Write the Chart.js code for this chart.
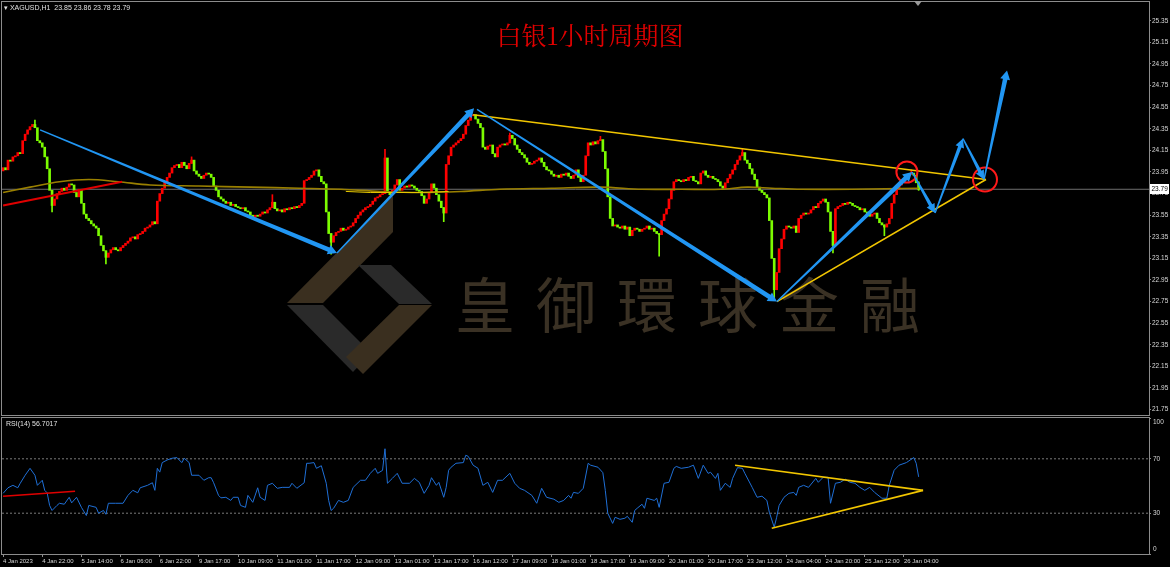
<!DOCTYPE html>
<html><head><meta charset="utf-8">
<script src="https://cdn.jsdelivr.net/npm/chart.js@4.4.1/dist/chart.umd.min.js"></script>
<style>
html,body{margin:0;padding:0;background:#000;width:1170px;height:567px;overflow:hidden;}
#wrap{position:relative;width:1170px;height:567px;}
canvas{position:absolute;left:0;z-index:1;}
#c1{top:0;} #c2{top:416px;}
#logo{position:absolute;left:0;top:0;z-index:0;}
#wm{position:absolute;left:455px;top:272px;font-family:'Noto Sans CJK TC','Noto Sans CJK SC',sans-serif;font-size:60px;line-height:1;letter-spacing:21px;color:#3a3124;z-index:0;white-space:nowrap;}
#title{position:absolute;left:0;width:1180px;top:22px;text-align:center;font-family:'Noto Serif CJK SC','Noto Sans CJK SC',serif;font-size:25px;line-height:1;color:#e00000;z-index:2;}
.lbl{position:absolute;font-family:'Liberation Sans',Arial,sans-serif;font-size:7px;line-height:1;color:#e0e0e0;z-index:2;white-space:nowrap;}
#shift{position:absolute;left:914px;top:1px;width:0;height:0;border-left:4px solid transparent;border-right:4px solid transparent;border-top:5px solid #9a9a9a;z-index:3;}
</style></head>
<body><div id="wrap">
<svg id="logo" width="1170" height="567">
  <polygon points="287,303 393,196 393,232 323,303" fill="#3a2f1f"/>
  <polygon points="358,265 391,265 432,304 399,304" fill="#2a2a2a"/>
  <polygon points="287,305 323,305 371,353 353,372" fill="#2a2a2a"/>
  <polygon points="399,305 432,305 363,374 346,357" fill="#3a2f1f"/>
</svg>
<div id="wm">皇御環球金融</div>
<canvas id="c1" width="1170" height="416"></canvas>
<canvas id="c2" width="1170" height="151"></canvas>
<div id="title">白银1小时周期图</div>
<div class="lbl" style="left:4px;top:4px;">▾ XAGUSD,H1&nbsp; 23.85 23.86 23.78 23.79</div>
<div class="lbl" style="left:6px;top:420px;">RSI(14) 56.7017</div>
<div id="shift"></div>
</div>
<script>
// ---------- DATA ----------
const xLabels = ["4 Jan 2023","4 Jan 22:00","5 Jan 14:00","6 Jan 06:00","6 Jan 22:00","9 Jan 17:00","10 Jan 09:00","11 Jan 01:00","11 Jan 17:00","12 Jan 09:00","13 Jan 01:00","13 Jan 17:00","16 Jan 12:00","17 Jan 09:00","18 Jan 01:00","18 Jan 17:00","19 Jan 09:00","20 Jan 01:00","20 Jan 17:00","23 Jan 12:00","24 Jan 04:00","24 Jan 20:00","25 Jan 12:00","26 Jan 04:00"];
const barsPerLabel = 16;
const priceTicks = [25.35,25.15,24.95,24.75,24.55,24.35,24.15,23.95,23.75,23.55,23.35,23.15,22.95,22.75,22.55,22.35,22.15,21.95,21.75];
const rsiTicks = [100,70,30,0];
const rsiLevels = [70,30];

const firstOpen = 23.96;
const closes = [
23.99,23.97,24.06,24.05,24.09,24.10,24.13,24.12,24.24,24.30,24.34,24.37,24.39,24.36,24.24,24.22,
24.18,24.09,23.98,23.78,23.64,23.70,23.75,23.77,23.80,23.78,23.81,23.84,23.83,23.76,23.72,23.79,
23.66,23.56,23.52,23.50,23.47,23.45,23.43,23.36,23.27,23.22,23.16,23.20,23.23,23.25,23.23,23.22,
23.25,23.27,23.29,23.31,23.34,23.35,23.33,23.37,23.38,23.40,23.43,23.44,23.46,23.49,23.47,23.68,
23.75,23.80,23.86,23.90,23.94,23.99,24.01,24.02,23.99,24.04,24.01,23.98,24.03,24.06,23.96,23.93,
23.91,23.89,23.92,23.94,23.93,23.90,23.82,23.78,23.72,23.70,23.68,23.66,23.67,23.64,23.65,23.63,
23.62,23.61,23.62,23.59,23.58,23.55,23.53,23.55,23.54,23.56,23.58,23.57,23.60,23.62,23.67,23.61,
23.59,23.60,23.58,23.61,23.60,23.62,23.61,23.63,23.62,23.64,23.66,23.87,23.88,23.90,23.92,23.96,
23.97,23.91,23.86,23.84,23.58,23.38,23.30,23.36,23.39,23.40,23.43,23.41,23.42,23.44,23.45,23.48,
23.52,23.55,23.58,23.60,23.62,23.63,23.65,23.68,23.71,23.72,23.74,23.75,24.08,23.76,23.74,23.78,
23.83,23.88,23.78,23.80,23.82,23.81,23.83,23.82,23.80,23.78,23.77,23.73,23.66,23.70,23.76,23.84,
23.80,23.74,23.68,23.62,23.57,24.02,24.10,24.18,24.20,24.22,24.24,24.26,24.30,24.38,24.43,24.47,
24.48,24.44,24.40,24.36,24.18,24.16,24.19,24.20,24.12,24.09,24.18,24.20,24.21,24.20,24.22,24.29,
24.26,24.20,24.16,24.13,24.11,24.08,24.04,24.02,24.03,24.05,24.06,24.08,24.04,24.00,23.97,23.96,
23.93,23.91,23.92,23.90,23.93,23.92,23.94,23.91,23.89,23.92,23.97,23.90,23.86,23.92,24.10,24.22,
24.20,24.23,24.21,24.24,24.25,24.14,23.98,23.72,23.52,23.45,23.46,23.44,23.43,23.45,23.42,23.44,
23.36,23.41,23.43,23.42,23.40,23.42,23.43,23.45,23.42,23.43,23.40,23.38,23.37,23.50,23.56,23.61,
23.70,23.78,23.86,23.88,23.87,23.86,23.88,23.87,23.90,23.91,23.87,23.86,23.84,23.94,23.96,23.92,
23.90,23.91,23.89,23.88,23.86,23.82,23.80,23.85,23.89,23.93,23.97,24.02,24.06,24.10,24.13,24.06,
24.03,23.98,23.93,23.88,23.81,23.78,23.76,23.74,23.71,23.50,23.15,22.86,23.02,23.24,23.33,23.42,
23.45,23.44,23.43,23.45,23.39,23.52,23.55,23.57,23.56,23.57,23.60,23.63,23.62,23.66,23.68,23.70,
23.67,23.58,23.40,23.27,23.61,23.63,23.64,23.66,23.65,23.67,23.66,23.64,23.63,23.62,23.60,23.61,
23.58,23.56,23.54,23.56,23.57,23.52,23.48,23.46,23.44,23.47,23.52,23.66,23.74,23.79,23.83,23.86,
23.88,23.91,23.93,23.94,23.92,23.85,23.79
];
const wickBars  = [13,20,42,77,110,134,156,180,191,207,244,268,302,315,339,360,371,374];
const wickHighs = [24.43,null,null,24.09,23.74,null,24.16,null,24.51,24.31,24.28,null,24.16,null,null,null,23.97,23.86];
const wickLows  = [null,23.58,23.10,null,null,23.19,null,23.49,null,null,null,23.17,null,22.77,23.20,23.36,null,23.78];

const maBars   = [0,11,23,35,47,60,80,101,121,138,154,170,187,203,224,244,261,277,293,304,314,326,347,374];
const maValues = [23.76,23.81,23.86,23.88,23.86,23.83,23.82,23.81,23.80,23.79,23.77,23.76,23.77,23.79,23.80,23.81,23.79,23.79,23.79,23.81,23.80,23.79,23.79,23.80];
const ma2Bars   = [140,150,160,170,182];
const ma2Values = [23.77,23.76,23.76,23.76,23.77];

const redTrendBars = [0,48.6];
const redTrendValues = [23.64,23.86];
const upperLineBars = [192,401.5];
const upperLineValues = [24.48,23.88];
const lowerLineBars = [316.1,401.5];
const lowerLineValues = [22.75,23.88];
const circleBars = [369.2,401.1];
const circleValues = [23.95,23.88];

const arrowStartBar   = [15.1,136.4,193.6,316.1,371.3,380.7,392.1,400.7];
const arrowStartPrice = [24.34,23.20,24.53,22.75,23.95,23.57,24.26,23.88];
const arrowEndBar     = [136.4,192.4,316.1,371.3,380.7,392.1,400.7,410.1];
const arrowEndPrice   = [23.20,24.54,22.75,23.95,23.57,24.26,23.88,24.89];

const rsiBars = [0,2,4,6,7,9,11,13,14,16,17,18,19,20,22,23,25,27,28,30,32,34,35,38,39,41,42,43,46,49,51,53,55,56,59,61,62,63,64,65,67,69,71,73,74,76,77,80,82,84,85,86,88,89,91,93,94,96,97,99,100,102,104,105,107,108,110,112,114,117,118,120,123,124,125,127,128,130,132,133,134,135,137,139,141,143,146,148,150,152,153,155,156,157,159,161,163,166,168,170,172,174,175,177,178,180,181,182,183,185,188,189,190,192,194,196,198,200,202,204,207,209,211,213,216,218,220,222,225,227,229,231,232,233,235,237,239,240,243,245,246,247,249,250,252,254,255,257,258,259,261,262,263,266,267,268,270,272,274,275,277,280,282,284,286,288,289,291,292,293,295,297,298,300,302,303,306,308,310,312,313,315,316,317,319,321,323,324,325,327,329,332,333,335,337,338,340,342,344,346,348,350,352,354,356,359,361,362,364,366,369,372,373,374];
const rsiValues = [44.6,48.7,50.5,48.7,52.0,57.9,63.0,57.9,50.5,54.2,46.8,45.0,35.7,32.0,35.7,37.3,36.6,41.7,37.6,41.7,34.3,28.3,35.7,34.3,30.0,32.0,29.2,37.3,37.3,37.3,43.1,46.8,45.0,48.7,50.5,52.4,46.8,63.0,60.2,67.2,69.1,70.4,70.9,67.2,70.4,67.2,57.9,57.9,54.2,56.1,56.1,52.4,43.1,41.3,41.7,39.4,41.7,41.7,35.7,34.3,43.1,38.0,48.7,41.7,39.4,50.5,52.0,48.3,49.0,49.0,52.0,48.3,52.4,66.7,66.7,67.2,63.0,64.9,52.0,39.4,32.0,33.6,39.4,38.0,39.4,49.0,54.2,54.2,59.3,63.0,59.3,61.5,77.4,52.0,55.6,59.3,52.0,52.0,55.6,52.7,44.6,50.5,56.1,50.5,52.7,41.7,49.0,61.6,63.8,66.7,67.2,72.6,71.8,65.3,63.0,50.5,52.7,45.3,54.2,54.2,59.3,52.0,48.3,46.8,43.1,37.3,48.3,41.7,40.3,38.0,39.4,43.1,41.0,45.3,44.6,48.3,66.7,65.3,63.8,59.8,46.8,30.0,22.5,27.0,25.5,26.3,27.7,23.3,32.0,33.6,36.6,33.6,41.0,39.4,41.0,34.3,52.0,52.7,63.0,64.4,63.0,63.8,65.3,55.6,65.3,59.3,60.1,55.6,59.3,46.8,52.0,49.0,55.6,63.5,63.0,59.3,49.0,41.7,42.5,39.4,30.7,19.7,27.0,35.7,41.7,44.6,45.3,43.1,49.0,50.5,49.0,55.6,52.7,56.4,56.4,37.3,52.0,52.7,55.0,52.7,52.0,49.0,46.8,49.0,45.3,41.0,41.0,50.5,61.6,65.3,67.2,70.9,66.7,56.7];
const rsiRedBars = [0,29.4];
const rsiRedValues = [42.5,46.1];
const rsiUpperBars = [299,375.8];
const rsiUpperValues = [65.2,46.8];
const rsiLowerBars = [314,375.8];
const rsiLowerValues = [18.9,46.8];

// ---------- STYLE / LAYOUT ----------
const X_MIN = -0.45, X_MAX = 468.1;
const Y_MIN = 21.70, Y_MAX = 25.524;
const UP = '#ff0000', DOWN = '#7CFC00';
const GRAY = '#8c8c8c', TXT = '#d8d8d8';
const FONT = "'Liberation Sans',Arial,sans-serif";
const ARROW = '#2196f3';
const lastPrice = closes[closes.length - 1];

const opens = closes.map((c, i) => i === 0 ? firstOpen : closes[i - 1]);
const bodyData = closes.map((c, i) => ({x: i, y: [opens[i], c]}));
const bodyColors = closes.map((c, i) => c > opens[i] ? UP : DOWN);
const wickData = wickBars.map((b, k) => {
  const lo = wickLows[k] ?? Math.min(opens[b], closes[b]);
  const hi = wickHighs[k] ?? Math.max(opens[b], closes[b]);
  return {x: b, y: [lo, hi]};
});
const wickColors = wickBars.map(b => bodyColors[b]);
const pts = (bs, vs) => bs.map((b, k) => ({x: b, y: vs[k]}));

const noPad = s => { s.paddingTop = 0; s.paddingBottom = 0; s.paddingLeft = 0; s.paddingRight = 0; };

const framePlugin = {
  id: 'frame',
  afterDraw(chart) {
    const {ctx, chartArea: a} = chart;
    ctx.save(); ctx.strokeStyle = GRAY; ctx.lineWidth = 1;
    ctx.strokeRect(a.left - 0.5, a.top - 0.5, a.right - a.left + 1, a.bottom - a.top + 1);
    ctx.restore();
  }
};

const arrowPlugin = {
  id: 'arrows',
  afterDatasetsDraw(chart) {
    const {ctx, chartArea: a, scales: {x, y}} = chart;
    ctx.save();
    ctx.beginPath(); ctx.rect(a.left, a.top, a.right - a.left, a.bottom - a.top); ctx.clip();
    ctx.fillStyle = ARROW;
    arrowStartBar.forEach((sb, k) => {
      const x0 = x.getPixelForValue(sb), y0 = y.getPixelForValue(arrowStartPrice[k]);
      const x1 = x.getPixelForValue(arrowEndBar[k]), y1 = y.getPixelForValue(arrowEndPrice[k]);
      const dx = x1 - x0, dy = y1 - y0, L = Math.hypot(dx, dy);
      const ux = dx / L, uy = dy / L, nx = -uy, ny = ux;
      const w0 = 1.4, w1 = L > 100 ? 4.6 : 3.6, head = 9, hw = L > 100 ? 5 : 4.5;
      const bx = x1 - ux * head, by = y1 - uy * head;
      ctx.beginPath();
      ctx.moveTo(x0 + nx * w0 / 2, y0 + ny * w0 / 2);
      ctx.lineTo(bx + nx * w1 / 2, by + ny * w1 / 2);
      ctx.lineTo(bx + nx * hw, by + ny * hw);
      ctx.lineTo(x1, y1);
      ctx.lineTo(bx - nx * hw, by - ny * hw);
      ctx.lineTo(bx - nx * w1 / 2, by - ny * w1 / 2);
      ctx.lineTo(x0 - nx * w0 / 2, y0 - ny * w0 / 2);
      ctx.closePath(); ctx.fill();
    });
    ctx.restore();
  }
};

const lastPricePlugin = {
  id: 'lastPrice',
  afterDraw(chart) {
    const {ctx, chartArea: a, scales: {y}} = chart;
    const py = Math.round(y.getPixelForValue(lastPrice));
    ctx.save();
    ctx.fillStyle = '#ffffff'; ctx.fillRect(a.right + 1, py - 5, 19, 10);
    ctx.fillStyle = '#000000'; ctx.font = '6.5px ' + FONT; ctx.textBaseline = 'middle';
    ctx.fillText(lastPrice.toFixed(2), a.right + 2.5, py + 0.5);
    ctx.restore();
  }
};

const rsiAxisLabels = {
  id: 'rsiLabels',
  afterDraw(chart) {
    const {ctx, chartArea: a, scales: {y}} = chart;
    ctx.save(); ctx.fillStyle = TXT; ctx.font = '6.5px ' + FONT; ctx.textBaseline = 'middle';
    rsiTicks.forEach(v => {
      let py = y.getPixelForValue(v);
      py = Math.min(Math.max(py, a.top + 4), a.bottom - 5);
      ctx.fillText(String(v), a.right + 4, py);
    });
    ctx.restore();
  }
};

const lineDs = (data, color, width, order, extra) => Object.assign({
  type: 'line', data, borderColor: color, borderWidth: width, pointRadius: 0, fill: false, tension: 0, order
}, extra || {});

const common = {
  responsive: false, maintainAspectRatio: false, animation: false, events: [],
  plugins: {legend: {display: false}, tooltip: {enabled: false}, title: {display: false}}
};

new Chart(document.getElementById('c1'), {
  type: 'bar',
  data: {datasets: [
    {type: 'bar', data: wickData, backgroundColor: wickColors, barThickness: 1, maxBarThickness: 1, grouped: false, order: 20},
    {type: 'bar', data: bodyData, backgroundColor: bodyColors, barThickness: 2, maxBarThickness: 2, minBarLength: 1, grouped: false, order: 19},
    lineDs([{x: X_MIN, y: lastPrice}, {x: X_MAX, y: lastPrice}], '#6f6f6f', 1, 25),
    lineDs(pts(maBars, maValues), '#9a8000', 1.6, 6, {tension: 0.35}),
    lineDs(pts(ma2Bars, ma2Values), '#e6c800', 1, 5),
    lineDs(pts(redTrendBars, redTrendValues), '#e00000', 2, 4),
    lineDs(pts(upperLineBars, upperLineValues), '#f2c600', 1.6, 3),
    lineDs(pts(lowerLineBars, lowerLineValues), '#f2c600', 1.6, 3),
    {type: 'line', data: pts(circleBars, circleValues), showLine: false, pointRadius: [10.5, 12],
     pointBorderColor: '#ff1a1a', pointBorderWidth: 2, pointBackgroundColor: 'rgba(0,0,0,0)', order: 1, clip: false}
  ]},
  options: Object.assign({}, common, {
    layout: {autoPadding: false, padding: {left: 2, top: 2, right: 0, bottom: 1}},
    scales: {
      x: {type: 'linear', min: X_MIN, max: X_MAX, offset: false, display: false},
      y: {
        position: 'right', min: Y_MIN, max: Y_MAX,
        afterBuildTicks: s => { s.ticks = priceTicks.map(v => ({value: v})); },
        afterFit: s => { s.width = 21; noPad(s); },
        ticks: {color: TXT, font: {family: FONT, size: 6.5}, padding: 1, callback: v => Number(v).toFixed(2)},
        grid: {drawOnChartArea: false, drawTicks: true, tickLength: 2, color: GRAY},
        border: {color: GRAY}
      }
    }
  }),
  plugins: [framePlugin, arrowPlugin, lastPricePlugin]
});

new Chart(document.getElementById('c2'), {
  type: 'line',
  data: {datasets: [
    lineDs([{x: X_MIN, y: rsiLevels[0]}, {x: X_MAX, y: rsiLevels[0]}], '#7a7a7a', 1, 10, {borderDash: [2, 2]}),
    lineDs([{x: X_MIN, y: rsiLevels[1]}, {x: X_MAX, y: rsiLevels[1]}], '#7a7a7a', 1, 10, {borderDash: [2, 2]}),
    lineDs(pts(rsiBars, rsiValues), '#1f6fd6', 1, 5),
    lineDs(pts(rsiRedBars, rsiRedValues), '#e00000', 1.6, 3),
    lineDs(pts(rsiUpperBars, rsiUpperValues), '#f2c600', 1.6, 2),
    lineDs(pts(rsiLowerBars, rsiLowerValues), '#f2c600', 1.6, 2)
  ]},
  options: Object.assign({}, common, {
    layout: {autoPadding: false, padding: {left: 2, top: 2, right: 0, bottom: 0}},
    scales: {
      x: {
        type: 'linear', min: X_MIN, max: X_MAX, offset: false, position: 'bottom',
        afterBuildTicks: s => { s.ticks = xLabels.map((l, k) => ({value: k * barsPerLabel})); },
        afterFit: s => { s.height = 13; noPad(s); },
        ticks: {color: TXT, font: {family: FONT, size: 6}, padding: 1, align: 'start', maxRotation: 0, autoSkip: false,
                callback: (v, idx) => xLabels[idx]},
        grid: {drawOnChartArea: false, drawTicks: true, tickLength: 3, color: GRAY},
        border: {color: GRAY}
      },
      y: {
        position: 'right', min: 0, max: 100,
        afterBuildTicks: s => { s.ticks = rsiTicks.map(v => ({value: v})); },
        afterFit: s => { s.width = 21; noPad(s); },
        ticks: {display: false},
        grid: {drawOnChartArea: false, drawTicks: true, tickLength: 2, color: GRAY},
        border: {color: GRAY}
      }
    }
  }),
  plugins: [framePlugin, rsiAxisLabels]
});
</script>
</body></html>
